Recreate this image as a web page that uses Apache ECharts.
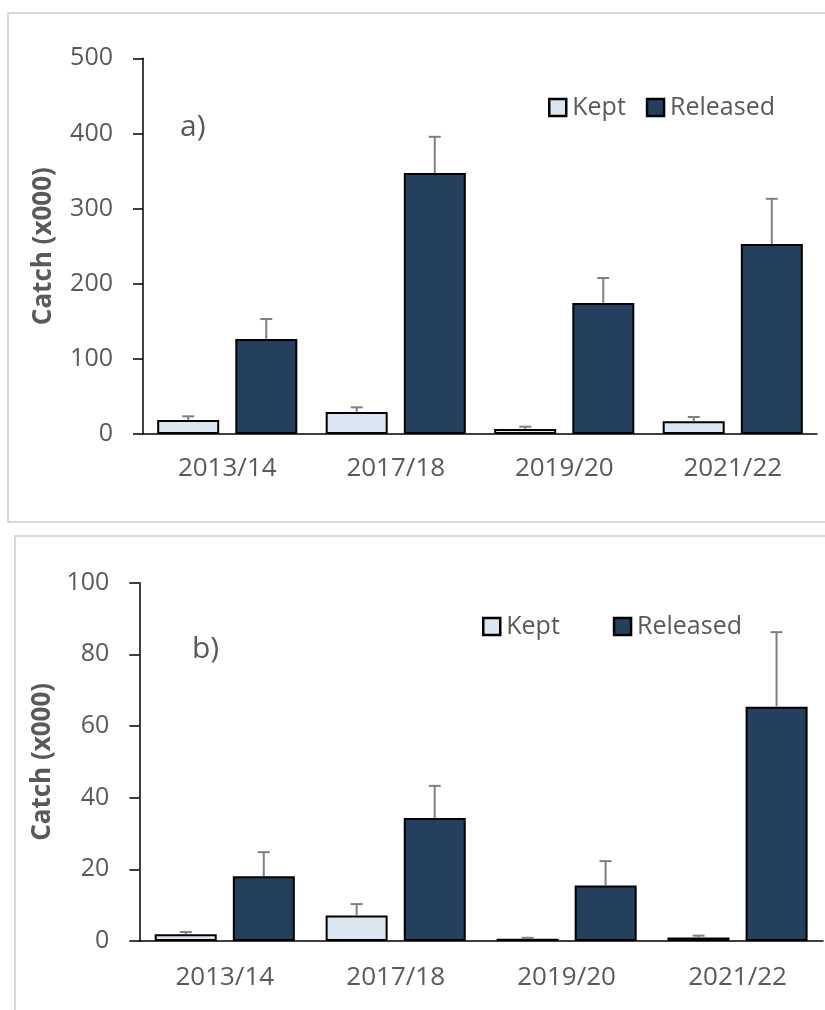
<!DOCTYPE html>
<html>
<head>
<meta charset="utf-8">
<script src="https://cdn.jsdelivr.net/npm/echarts@6/dist/echarts.min.js"></script>
<style>
html,body{margin:0;padding:0;background:#fff;}
#chart{width:825px;height:1010px;}
</style>
</head>
<body>
<div id="chart"></div>
<script>
// Categories and values (catch x000)
const categories = ['2013/14', '2017/18', '2019/20', '2021/22'];

// Panel a)
const keptA = [18.6, 29.3, 6.7, 16.9];
const keptHighA = [23.5, 35.5, 9.7, 22.6];
const releasedA = [126.5, 347.5, 174.5, 253];
const releasedHighA = [153, 395.5, 207.6, 313];

// Panel b)
const keptB = [1.9, 7.1, 0.65, 1.0];
const keptHighB = [2.5, 10.3, 0.9, 1.5];
const releasedB = [18.1, 34.3, 15.5, 65.4];
const releasedHighB = [24.8, 43.3, 22.3, 86.2];

const yTicksA = [0, 100, 200, 300, 400, 500];
const yTicksB = [0, 20, 40, 60, 80, 100];

const FONT = 'Open Sans';
const GREY = '#595959';
const KEPT_COLOR = '#dce6f2';
const REL_COLOR = '#253f5f';

function errRender(offset) {
  return function (params, api) {
    const x = api.value(0);
    const p1 = api.coord([x, api.value(1)]);
    const p2 = api.coord([x, api.value(2)]);
    const cx = p1[0] + offset;
    const style = { stroke: '#7f7f7f', lineWidth: 2 };
    return {
      type: 'group',
      children: [
        { type: 'line', shape: { x1: cx, y1: p1[1], x2: cx, y2: p2[1] }, style: style },
        { type: 'line', shape: { x1: cx - 6, y1: p2[1], x2: cx + 6, y2: p2[1] }, style: style }
      ]
    };
  };
}

function errData(vals, highs) {
  return vals.map((v, i) => [i, v, highs[i]]);
}

function xAxisCfg(gi, margin) {
  return {
    type: 'category', gridIndex: gi, data: categories,
    axisLine: { lineStyle: { color: '#000', width: 1.5 } },
    axisTick: { show: false },
    axisLabel: { color: GREY, fontFamily: FONT, fontSize: 26, margin: margin }
  };
}
function yAxisCfg(gi, max, interval, gap) {
  return {
    type: 'value', gridIndex: gi, min: 0, max: max, interval: interval,
    name: 'Catch (x000)', nameLocation: 'middle', nameGap: gap,
    nameTextStyle: { color: GREY, fontFamily: FONT, fontSize: 26, fontWeight: 'bold' },
    axisLine: { show: true, lineStyle: { color: '#000', width: 1.5 } },
    axisTick: { show: true, length: 10, lineStyle: { color: '#000', width: 1.5 } },
    splitLine: { show: false },
    axisLabel: { color: GREY, fontFamily: FONT, fontSize: 25, margin: 30 }
  };
}
function barSeries(name, data, color, xi) {
  return {
    name: name, type: 'bar', xAxisIndex: xi, yAxisIndex: xi, data: data,
    barWidth: 62, barGap: '26%',
    itemStyle: { color: color, borderColor: '#000', borderWidth: 2 }
  };
}
function errSeries(vals, highs, offset, xi) {
  return {
    type: 'custom', xAxisIndex: xi, yAxisIndex: xi,
    renderItem: errRender(offset), data: errData(vals, highs),
    encode: { x: 0, y: [1, 2] }, z: 5, silent: true, clip: false
  };
}
function legendCfg(left, top, gap) {
  return {
    left: left, top: top, itemWidth: 17, itemHeight: 17, itemGap: gap, icon: 'rect',
    data: ['Kept', 'Released'],
    itemStyle: { borderColor: '#000', borderWidth: 2.5 },
    textStyle: { color: GREY, fontFamily: FONT, fontSize: 25, padding: [0, 0, 0, 1] }
  };
}

const chart = echarts.init(document.getElementById('chart'), null, { renderer: 'canvas' });
chart.setOption({
  animation: false,
  backgroundColor: '#fff',
  grid: [
    { left: 143, right: 8, top: 58.3, height: 375.7 },
    { left: 139.3, right: 2, top: 582.7, height: 358.3 }
  ],
  xAxis: [xAxisCfg(0, 22), xAxisCfg(1, 24)],
  yAxis: [yAxisCfg(0, 500, 100, 86), yAxisCfg(1, 100, 20, 74)],
  legend: [legendCfg(543, 90, 20), legendCfg(477, 609, 53)],
  graphic: [
    { type: 'rect', shape: { x: 8, y: 13, width: 830, height: 509 }, style: { fill: 'none', stroke: '#d9d9d9', lineWidth: 2 }, silent: true, z: -10 },
    { type: 'rect', shape: { x: 15, y: 536, width: 830, height: 500 }, style: { fill: 'none', stroke: '#d9d9d9', lineWidth: 2 }, silent: true, z: -10 },
    { type: 'text', left: 180, top: 112, style: { text: 'a)', fill: GREY, font: '30px "Open Sans"' } },
    { type: 'text', left: 192, top: 634, style: { text: 'b)', fill: GREY, font: '30px "Open Sans"' } }
  ],
  series: [
    barSeries('Kept', keptA, KEPT_COLOR, 0),
    barSeries('Released', releasedA, REL_COLOR, 0),
    barSeries('Kept', keptB, KEPT_COLOR, 1),
    barSeries('Released', releasedB, REL_COLOR, 1),
    errSeries(keptA, keptHighA, -39, 0),
    errSeries(releasedA, releasedHighA, 39, 0),
    errSeries(keptB, keptHighB, -39, 1),
    errSeries(releasedB, releasedHighB, 39, 1)
  ]
});
</script>
</body>
</html>
